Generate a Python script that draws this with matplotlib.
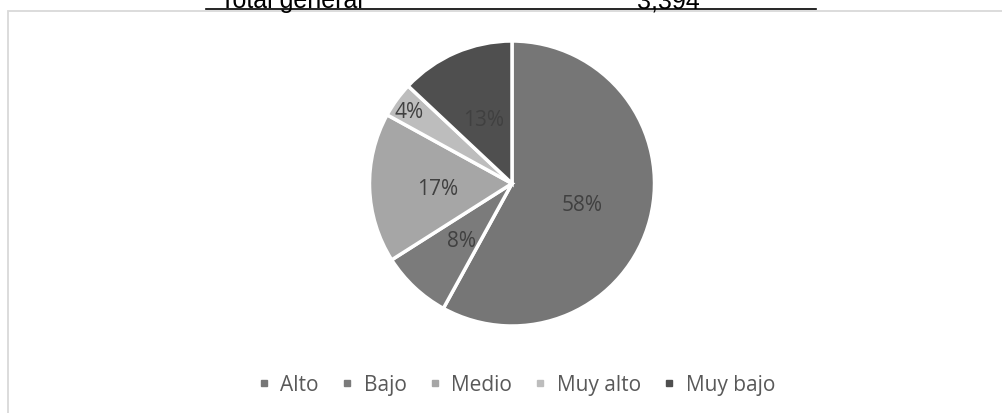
import matplotlib
matplotlib.use("Agg")
import matplotlib.pyplot as plt
from matplotlib.lines import Line2D
from matplotlib.patches import Rectangle
import numpy as np

# Datos del gráfico
categorias = ["Alto", "Bajo", "Medio", "Muy alto", "Muy bajo"]
porcentajes = [58, 8, 17, 4, 13]
colores = ["#767676", "#7b7b7b", "#a6a6a6", "#bdbdbd", "#4f4f4f"]
dist_etiquetas = [0.51, 0.52, 0.52, 0.89, 0.51]
titulo_tabla = "Total general"
total_tabla = "3,394"

W, H = 1002, 414
fig = plt.figure(figsize=(W / 100, H / 100), dpi=100)
fig.patch.set_facecolor("white")

# marco del gráfico (recortado por el borde de la imagen)
fig.add_artist(Rectangle((7.5 / W, -0.05), 1.1, (H - 11.5) / H + 0.05,
                         transform=fig.transFigure, fill=False,
                         edgecolor="#d9d9d9", linewidth=1.3))

# resto de la tabla de arriba, cortada por el borde
fig.add_artist(Line2D([206 / W, 816 / W], [1 - 10 / H, 1 - 10 / H],
                      transform=fig.transFigure, color="black", linewidth=1.2))
fig.text(220 / W, 1 - 8 / H, titulo_tabla, fontsize=18, family="Liberation Sans",
         va="baseline", ha="left", color="black")
fig.text(637 / W, 1 - 8 / H, total_tabla, fontsize=18, family="Liberation Sans",
         va="baseline", ha="left", color="black")

# pastel
r = 142.5
cx, cy = 512, 184.5
ax = fig.add_axes([(cx - r) / W, (H - cy - r) / H, 2 * r / W, 2 * r / H])
wedges, textos = ax.pie(porcentajes, colors=colores, startangle=90, counterclock=False,
                        wedgeprops=dict(edgecolor="white", linewidth=2.5))
ax.set_xlim(-1, 1)
ax.set_ylim(-1, 1)
ax.set_aspect("equal")
ax.axis("off")

for w, p, d in zip(wedges, porcentajes, dist_etiquetas):
    ang = np.deg2rad((w.theta1 + w.theta2) / 2)
    ax.text(d * np.cos(ang), d * np.sin(ang), f"{p}%", ha="center",
            va="center_baseline", fontsize=15, family="Open Sans", color="#404040")

manijas = [Line2D([], [], marker="s", linestyle="none", markersize=5,
                  markerfacecolor=c, markeredgecolor=c) for c in colores]
fig.legend(manijas, categorias, loc="center", bbox_to_anchor=(517 / W, 1 - 386 / H),
           ncol=5, frameon=False, handlelength=0.5, handletextpad=0.55,
           columnspacing=1.1, prop={"family": "Open Sans", "size": 15},
           labelcolor="#595959")

fig.savefig("out.png", dpi=100)
